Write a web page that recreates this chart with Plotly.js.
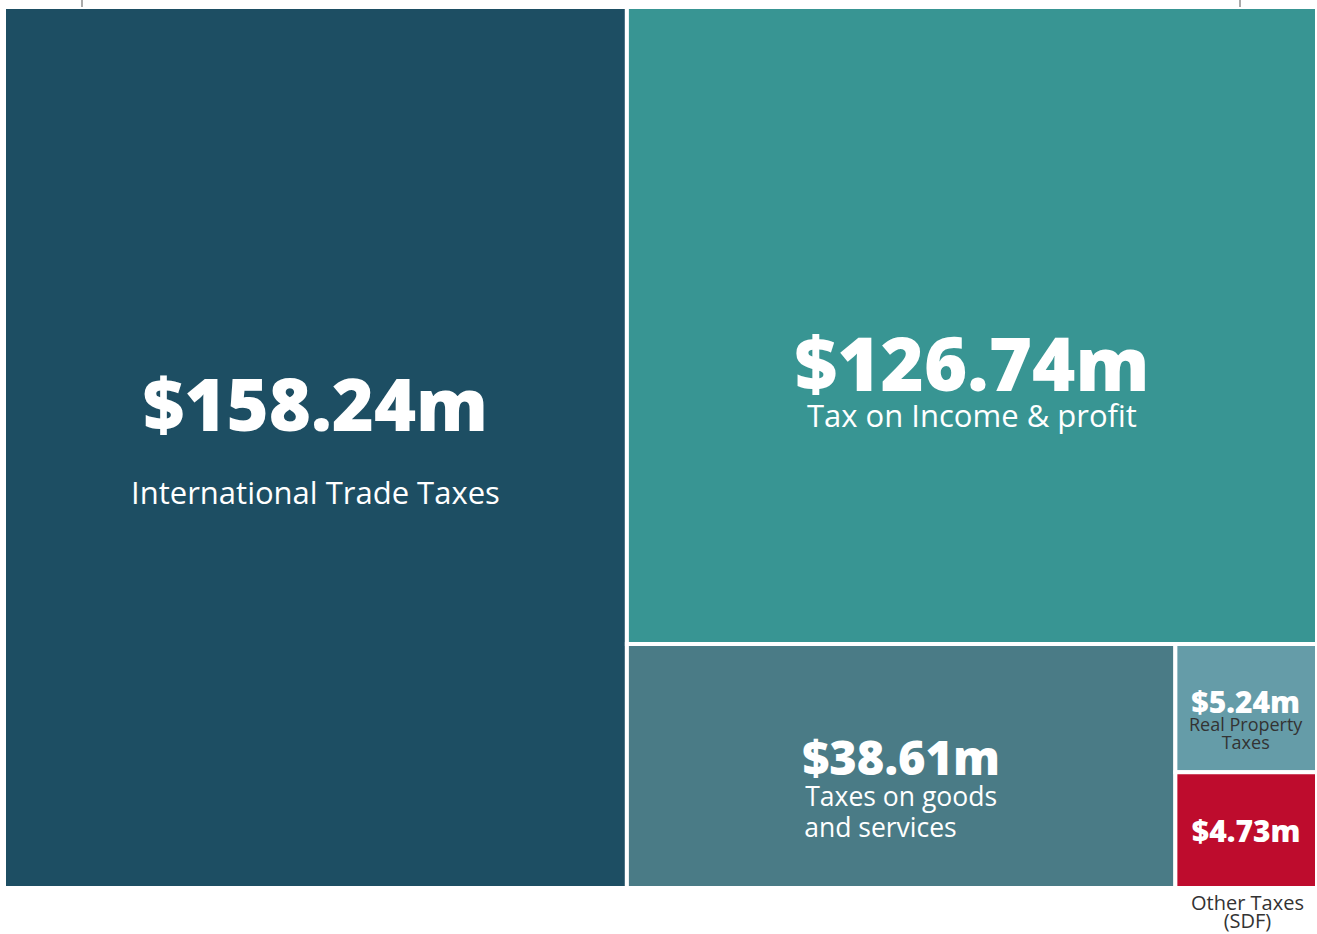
<!DOCTYPE html>
<html>
<head>
<meta charset="utf-8">
<script src="https://cdn.plot.ly/plotly-3.0.1.min.js"></script>
<style>html,body{margin:0;padding:0;background:#fff;}#chart{width:1317px;height:934px;}</style>
</head>
<body>
<div id="chart"></div>
<script>
// ---- data ----
const categories = ["International Trade Taxes", "Tax on Income & profit", "Taxes on goods and services", "Real Property Taxes", "Other Taxes (SDF)"];
const values = [158.24, 126.74, 38.61, 5.24, 4.73];
const insideLabels = ["International Trade Taxes", "Tax on Income & profit", "Taxes on goods<br>and services\u00a0\u00a0\u00a0\u00a0\u00a0\u00a0", "Real Property<br>Taxes", ""];
const outsideLabel = "Other Taxes<br>(SDF)";

// ---- styles ----
const colors = ["#1D4E63", "#389593", "#4A7B86", "#659CA8", "#BE0C2D"];
const valueSize = [72, 74, 47, 30, 30];
const labelSize = [31, 31, 26.5, 18, 18];
const labelColor = ["#ffffff", "#ffffff", "#ffffff", "#333333", "#ffffff"];
const baseSize = [28, 28, 24, 14, 28];
const leadLines = [0, 4, 2, 2, 0];
const midLines = [1, 0, 0, 0, 0];
const trailLines = [1, 0, 0, 0, 0];

const spacer = '<span style="font-size:1px">\u00a0</span>';
const texts = values.map((v, i) => {
  let s = "";
  for (let k = 0; k < leadLines[i]; k++) s += "\u00a0<br>";
  s += `<span style="font-family:'Open Sans';font-weight:800;font-size:${valueSize[i]}px">$${v.toFixed(2)}m</span>`;
  for (let k = 0; k < midLines[i]; k++) s += "<br>" + spacer;
  if (insideLabels[i]) {
    s += `<br><span style="font-size:${labelSize[i]}px;fill:${labelColor[i]}">${insideLabels[i]}</span>`;
  }
  for (let k = 0; k < trailLines[i]; k++) s += "<br>" + spacer;
  return s;
});

const trace = {
  type: "treemap",
  labels: categories,
  parents: categories.map(() => ""),
  values: values,
  text: texts,
  textinfo: "text",
  textposition: "middle center",
  textfont: {family: "Open Sans", size: baseSize, color: "#ffffff"},
  marker: {colors: colors, line: {color: "#ffffff", width: 4}, pad: {t: 0, l: 0, r: 0, b: 0}},
  tiling: {packing: "squarify", pad: 0},
  pathbar: {visible: false},
  leaf: {opacity: 1},
  sort: true,
  hoverinfo: "skip"
};

const layout = {
  width: 1317,
  height: 934,
  margin: {l: 4, r: 0, t: 7, b: 46},
  paper_bgcolor: "#ffffff",
  showlegend: false,
  font: {family: "Open Sans", color: "#333333"},
  annotations: [{
    xref: "paper", yref: "paper",
    x: (1247 - 4) / 1313, y: 0,
    xanchor: "center", yanchor: "top",
    yshift: 1,
    text: `<span style="font-size:20px">${outsideLabel}</span>`,
    showarrow: false,
    font: {family: "Open Sans", size: 14, color: "#333333"}
  }],
  shapes: [
    {type: "line", xref: "paper", yref: "paper", x0: (82 - 4) / 1313, x1: (82 - 4) / 1313, y0: 1, y1: 1 + 8 / 881, line: {color: "#aaaaaa", width: 2}},
    {type: "line", xref: "paper", yref: "paper", x0: (1240 - 4) / 1313, x1: (1240 - 4) / 1313, y0: 1, y1: 1 + 8 / 881, line: {color: "#aaaaaa", width: 2}}
  ]
};

Plotly.newPlot("chart", [trace], layout, {displayModeBar: false, staticPlot: true});
</script>
</body>
</html>
